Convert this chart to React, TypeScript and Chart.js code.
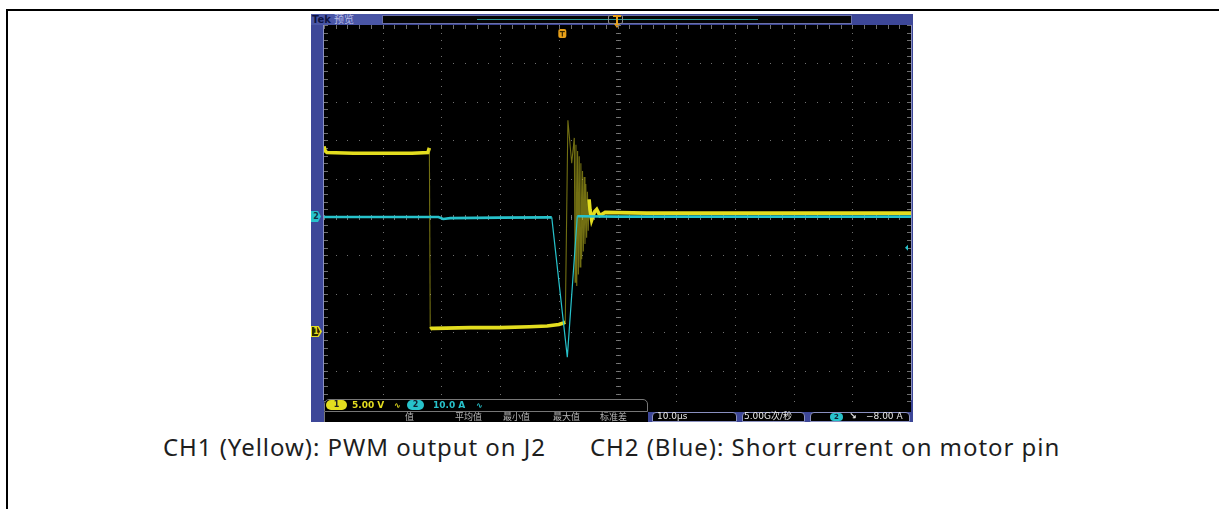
import React, { useEffect, useRef } from "react";
import { Chart, registerables } from "chart.js";
Chart.register(...registerables);

// ---- data (time in µs, CH1 in volts, CH2 in amps) ----
const ch1Times = [
  -50, -49.8, -49.5, -45, -40, -35, -32.3, -32.05, -31.9, -31.7, -31.3, -25, -20, -15, -12, -10, -9.2,
  -8.9, -8.45, -7.8, -7.36, -7.22, -7.08, -6.94, -6.8, -6.66, -6.52, -6.38, -6.24, -6.1, -5.96, -5.82,
  -5.68, -5.54, -5.4, -5.26, -5.12, -4.98, -4.84, -4.68, -4.4, -3.9, -3.54, -3.0, -2.1, 5, 15, 25, 35, 50,
];
const ch1Volts = [
  24.2, 23.6, 23.4, 23.3, 23.3, 23.3, 23.4, 24.0, 0.4, 0.5, 0.5, 0.6, 0.6, 0.7, 0.8, 1.0, 1.2,
  1.3, 27.6, 22.0, 25.3, 6.5, 24.4, 6.0, 23.6, 7.5, 22.9, 8.5, 22.0, 9.5, 21.0, 10.5,
  20.2, 11.5, 19.3, 12.3, 18.3, 13.2, 17.3, 15.9, 14.6, 15.7, 16.0, 15.2, 15.6, 15.5, 15.5, 15.5, 15.5, 15.5,
];
const ch2Times = [-50, -40, -30.5, -29.7, -28.5, -20, -11.2, -8.55, -6.85, -6.5, 0, 20, 50];
const ch2Amps = [0.0, 0.0, 0.0, -0.5, -0.3, -0.15, -0.1, -36.5, 0.2, 0.2, 0.1, 0.1, 0.1];

const timeMin = -50;
const timeMax = 50;
const timePerDiv = 10; // µs/div
const ch1VoltsPerDiv = 5;
const ch1OffsetDiv = -3;
const ch2AmpsPerDiv = 10;
const divX = 10;
const divY = 10;
const triggerTime = -9.4;
const triggerLevel = -8; // A

const ch1Label = "5.00 V";
const ch2Label = "10.0 A";
const measureLabels = ["值", "平均值", "最小值", "最大值", "标准差"];
const timebaseLabel = "10.0µs";
const sampleLabel = "5.00G次/秒";
const triggerLabel = "−8.00 A";
const captionLeft = "CH1 (Yellow): PWM output on J2";
const captionRight = "CH2 (Blue): Short current on motor pin";

const YELLOW = "#e3dd1f";
const CYAN = "#27c2cb";
const PANEL = "#3d4798";

const graticule = {
  id: "graticule",
  beforeDatasetsDraw(chart: any) {
    const { ctx, scales } = chart;
    const x = scales.x;
    const y1 = scales.y1;
    const xs: number[] = [];
    for (let i = 0; i <= divX; i++) xs.push(x.getPixelForValue(timeMin + i * timePerDiv));
    const ys: number[] = [];
    for (let d = divY / 2; d >= -divY / 2; d--) ys.push(y1.getPixelForValue((d - ch1OffsetDiv) * ch1VoltsPerDiv));
    const dx = (xs[divX] - xs[0]) / divX;
    const dy = (ys[divY] - ys[0]) / divY;
    ctx.save();
    ctx.fillStyle = "rgba(125,125,125,0.9)";
    for (let i = 1; i < divX; i++) {
      for (let k = 0; k <= divY * 5; k++) {
        ctx.fillRect(Math.round(xs[i]), Math.round(ys[0] + (k * dy) / 5), 1, 1);
      }
    }
    for (let j = 1; j < divY; j++) {
      for (let k = 0; k <= divX * 5; k++) {
        ctx.fillRect(Math.round(xs[0] + (k * dx) / 5), Math.round(ys[j]), 1, 1);
      }
    }
    const cx = Math.round(xs[divX / 2]);
    const cy = Math.round(ys[divY / 2]);
    ctx.fillStyle = "rgba(130,130,130,0.85)";
    for (let k = 0; k <= divY * 5; k++) {
      ctx.fillRect(cx - 2, Math.round(ys[0] + (k * dy) / 5), 5, 1);
    }
    for (let k = 0; k <= divX * 5; k++) {
      ctx.fillRect(Math.round(xs[0] + (k * dx) / 5), cy - 2, 1, 5);
    }
    for (let k = 0; k <= divY * 5; k++) {
      const yy = Math.round(ys[0] + (k * dy) / 5);
      ctx.fillRect(Math.round(xs[0]), yy, 4, 1);
      ctx.fillRect(Math.round(xs[divX]) - 4, yy, 4, 1);
    }
    for (let k = 0; k <= divX * 5; k++) {
      const xx = Math.round(xs[0] + (k * dx) / 5);
      ctx.fillRect(xx, Math.round(ys[0]), 1, 4);
    }
    ctx.restore();
  },
  afterDatasetsDraw(chart: any) {
    const { ctx, scales } = chart;
    const tx = scales.x.getPixelForValue(triggerTime);
    const top = scales.y1.getPixelForValue((divY / 2 - ch1OffsetDiv) * ch1VoltsPerDiv);
    ctx.save();
    ctx.fillStyle = "#e8a019";
    ctx.beginPath();
    ctx.roundRect(tx - 4, top + 4, 8, 9, 2);
    ctx.fill();
    ctx.fillStyle = "#3a2a00";
    ctx.fillRect(tx - 2.5, top + 6, 5, 1.2);
    ctx.fillRect(tx - 0.6, top + 6, 1.2, 5.5);
    const ly = scales.y2.getPixelForValue(triggerLevel);
    const rx = scales.x.getPixelForValue(timeMax);
    ctx.fillStyle = CYAN;
    ctx.beginPath();
    ctx.moveTo(rx - 6, ly);
    ctx.lineTo(rx - 3, ly - 3);
    ctx.lineTo(rx - 3, ly + 3);
    ctx.closePath();
    ctx.fill();
    ctx.restore();
  },
};

function Scope() {
  const ref = useRef<HTMLCanvasElement | null>(null);
  useEffect(() => {
    if (!ref.current) return;
    const steep = (c: any) => Math.abs(c.p1.parsed.y - c.p0.parsed.y) > 3;
    const chart = new Chart(ref.current, {
      type: "line",
      data: {
        datasets: [
          {
            label: "CH2",
            data: ch2Times.map((t, i) => ({ x: t, y: ch2Amps[i] })),
            yAxisID: "y2",
            borderColor: CYAN,
            borderWidth: 2.6,
            pointRadius: 0,
            tension: 0,
            segment: {
              borderWidth: (c: any) => (Math.abs(c.p1.parsed.y - c.p0.parsed.y) > 10 ? 1.2 : 2.6),
            },
          },
          {
            label: "CH1",
            data: ch1Times.map((t, i) => ({ x: t, y: ch1Volts[i] })),
            yAxisID: "y1",
            borderColor: YELLOW,
            borderWidth: 3.6,
            pointRadius: 0,
            tension: 0,
            segment: {
              borderWidth: (c: any) => (steep(c) ? 1.1 : 3.6),
              borderColor: (c: any) => (steep(c) ? "rgba(190,185,30,0.6)" : YELLOW),
            },
          },
        ],
      },
      options: {
        animation: false,
        responsive: false,
        maintainAspectRatio: false,
        layout: { padding: 0 },
        plugins: { legend: { display: false }, tooltip: { enabled: false } },
        scales: {
          x: { type: "linear", min: timeMin, max: timeMax, display: false },
          y1: {
            type: "linear",
            min: (-divY / 2 - ch1OffsetDiv) * ch1VoltsPerDiv,
            max: (divY / 2 - ch1OffsetDiv) * ch1VoltsPerDiv,
            display: false,
          },
          y2: {
            type: "linear",
            min: (-divY / 2) * ch2AmpsPerDiv,
            max: (divY / 2) * ch2AmpsPerDiv,
            display: false,
          },
        },
      },
      plugins: [graticule],
    });
    return () => chart.destroy();
  }, []);
  return <canvas ref={ref} width={587} height={384} style={{ position: "absolute", left: 324, top: 25, width: 587, height: 384 }} />;
}

const abs = (l: number, t: number, w: number, h: number, extra: any = {}) => ({
  position: "absolute" as const,
  left: l,
  top: t,
  width: w,
  height: h,
  ...extra,
});

const small = {
  fontFamily: "'DejaVu Sans', 'Noto Sans CJK SC', sans-serif",
  fontSize: 9,
  fontWeight: "bold" as const,
  lineHeight: "11px",
  whiteSpace: "nowrap" as const,
};
const cjk = {
  fontFamily: "'Noto Sans CJK SC', sans-serif",
  fontSize: 9,
  lineHeight: "10px",
  whiteSpace: "nowrap" as const,
};
const caption = {
  fontFamily: "'Noto Sans', sans-serif",
  fontSize: 24,
  letterSpacing: "0.95px",
  lineHeight: "30px",
  color: "#1e1e1e",
  whiteSpace: "nowrap" as const,
};

export default function App() {
  return (
    <div style={{ position: "fixed", left: 0, top: 0, width: 1219, height: 509, background: "#fff", overflow: "hidden" }}>
      <div style={abs(6, 9, 1213, 500, { borderTop: "2px solid #000", borderLeft: "2px solid #000", boxSizing: "border-box" })} />

      <div style={abs(311, 14, 602, 408, { background: PANEL })} />
      <div style={abs(324, 25, 587, 387, { background: "#000" })} />
      <div style={abs(323, 25, 1, 375, { background: "#8a90c0" })} />
      <div style={abs(911, 25, 1, 375, { background: "#8a90c0" })} />

      <div style={abs(311, 14, 71, 11, { background: "#4a56a6" })} />
      <div style={abs(312, 13, 70, 12, { ...small, fontSize: 10, lineHeight: "12px" })}>
        <span style={{ color: "#0c1240", fontWeight: "bold", fontFamily: "'DejaVu Sans', sans-serif" }}>Tek</span>
        <span style={{ color: "#b9bde6", fontWeight: "normal", fontFamily: "'Noto Sans CJK SC', sans-serif", marginLeft: 3 }}>预览</span>
      </div>
      <div style={abs(382, 15, 470, 9, { background: "#050505", border: "1px solid #6a70a8", boxSizing: "border-box" })} />
      <div style={abs(477, 19, 281, 1, { background: "#2a9a9a" })} />
      <div style={abs(608, 15, 15, 9, { border: "1px solid #8a8a8a", borderRadius: 2, boxSizing: "border-box" })} />
      <div style={abs(613, 15, 8, 2, { background: "#e8a019" })} />
      <div style={abs(616, 15, 2, 9, { background: "#e8a019" })} />
      <div style={abs(614, 24, 0, 0, { borderLeft: "3px solid transparent", borderRight: "3px solid transparent", borderTop: "4px solid #e8a019" })} />

      <Scope />

      <div style={abs(311, 211, 10, 11, { background: CYAN, clipPath: "polygon(0 0, 70% 0, 100% 50%, 70% 100%, 0 100%)" })} />
      <div style={abs(312, 211, 8, 11, { ...small, color: "#103040", fontSize: 8, textAlign: "center" })}>2</div>
      <div style={abs(311, 326, 11, 11, { background: YELLOW, clipPath: "polygon(0 0, 70% 0, 100% 50%, 70% 100%, 0 100%)" })} />
      <div style={abs(312, 327, 8, 9, { background: "#2a2800", clipPath: "polygon(0 0, 70% 0, 100% 50%, 70% 100%, 0 100%)" })} />
      <div style={abs(312, 326, 8, 11, { ...small, color: YELLOW, fontSize: 8, textAlign: "center" })}>1</div>

      <div style={abs(324, 399, 324, 13, { background: "#000", border: "1px solid #777", borderRadius: "5px 5px 0 0", boxSizing: "border-box" })} />
      <div style={abs(326, 400, 21, 10, { background: YELLOW, borderRadius: 5 })} />
      <div style={abs(326, 400, 21, 10, { ...small, lineHeight: "10px", color: "#222", textAlign: "center", fontSize: 8 })}>1</div>
      <div style={abs(352, 400, 40, 11, { ...small, color: YELLOW })}>{ch1Label}</div>
      <div style={abs(394, 400, 8, 11, { ...small, color: YELLOW, fontSize: 8 })}>∿</div>
      <div style={abs(407, 400, 17, 10, { background: CYAN, borderRadius: 5 })} />
      <div style={abs(407, 400, 17, 10, { ...small, lineHeight: "10px", color: "#123", textAlign: "center", fontSize: 8 })}>2</div>
      <div style={abs(433, 400, 40, 11, { ...small, color: CYAN })}>{ch2Label}</div>
      <div style={abs(476, 400, 8, 11, { ...small, color: CYAN, fontSize: 8 })}>∿</div>

      <div style={abs(324, 412, 324, 10, { background: "#000", borderLeft: "1px solid #777", boxSizing: "border-box" })} />
      {measureLabels.map((m, i) => (
        <div key={m} style={abs([405, 455, 503, 553, 600][i], 412, 30, 10, { ...cjk, color: "#b8b8b8" })}>{m}</div>
      ))}
      <div style={abs(652, 412, 85, 10, { background: "#000", border: "1px solid #8a90c0", borderRadius: "4px 4px 0 0", boxSizing: "border-box" })} />
      <div style={abs(657, 411, 60, 11, { ...small, color: "#e8e8e8", fontWeight: "normal" })}>{timebaseLabel}</div>
      <div style={abs(742, 412, 63, 10, { background: "#000", border: "1px solid #8a90c0", borderRadius: "4px 4px 0 0", boxSizing: "border-box" })} />
      <div style={abs(744, 411, 60, 11, { ...small, color: "#e8e8e8", fontWeight: "normal" })}>{sampleLabel}</div>
      <div style={abs(810, 412, 100, 10, { background: "#000", border: "1px solid #8a90c0", borderRadius: "4px 4px 0 0", boxSizing: "border-box" })} />
      <div style={abs(830, 413, 13, 8, { background: CYAN, borderRadius: 4 })} />
      <div style={abs(830, 412, 13, 10, { ...small, lineHeight: "10px", color: "#123", textAlign: "center", fontSize: 7 })}>2</div>
      <div style={abs(849, 411, 10, 11, { ...small, color: "#e8e8e8" })}>↘</div>
      <div style={abs(866, 411, 44, 11, { ...small, color: "#e8e8e8", fontWeight: "normal" })}>{triggerLabel}</div>

      <div style={abs(163, 432, 420, 30, caption)}>{captionLeft}</div>
      <div style={abs(590, 432, 520, 30, caption)}>{captionRight}</div>
    </div>
  );
}
